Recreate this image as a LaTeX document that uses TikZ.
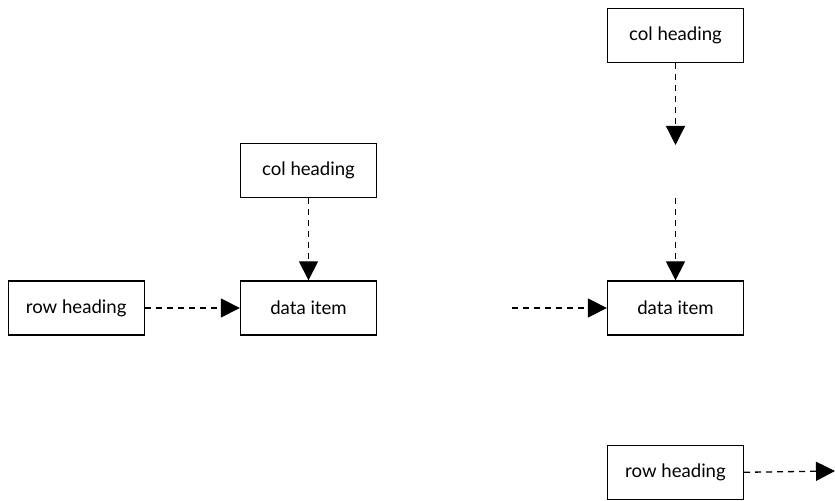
\documentclass[tikz,border=0pt]{standalone}
\usepackage{fontspec}
\setmainfont{Lato}
\usetikzlibrary{positioning,arrows.meta}

\begin{document}
\begin{tikzpicture}[x=0.5pt,y=-0.5pt,
	bstyle/.style={rectangle, draw=black, line width=0.65pt, fill=white,
	minimum width=68pt, minimum height=27pt, inner sep=0pt,
	font=\fontsize{9.3}{11}\selectfont},
	astyle/.style={line width=0.65pt, dash pattern=on 3pt off 2.5pt,
	-{Triangle[length=9.5pt,width=9.5pt]}}
	]
	\useasboundingbox (0,0) rectangle (835,501);
	
	% left group
	\node[bstyle] (d1) at (308.5,308) {data item};
	\node[bstyle] (r1) [left=47.5pt of d1] {row heading};
	\node[bstyle] (c1) [above=41pt of d1] {col heading};
	
	\draw[astyle] (r1.east) -- (d1.west);
	\draw[astyle] (c1.south) -- (d1.north);
	
	% right group
	\node[bstyle] (d2) at (675.5,308) {data item};
	\node[bstyle] (c2) at (675.5,35.5) {col heading};
	\node[bstyle] (r2) [below=54.5pt of d2] {row heading};
	
	\coordinate (ctip) at (675.5,145);
	\coordinate (cgap) at (675.5,198);
	\coordinate (rin) at (512,308);
	\coordinate (rout) at (835,471);
	
	\draw[astyle] (c2.south) -- (ctip);
	\draw[astyle] (cgap) -- (d2.north);
	\draw[astyle] (rin) -- (d2.west);
	\draw[astyle] (r2.east) -- (rout);
\end{tikzpicture}
\end{document}
